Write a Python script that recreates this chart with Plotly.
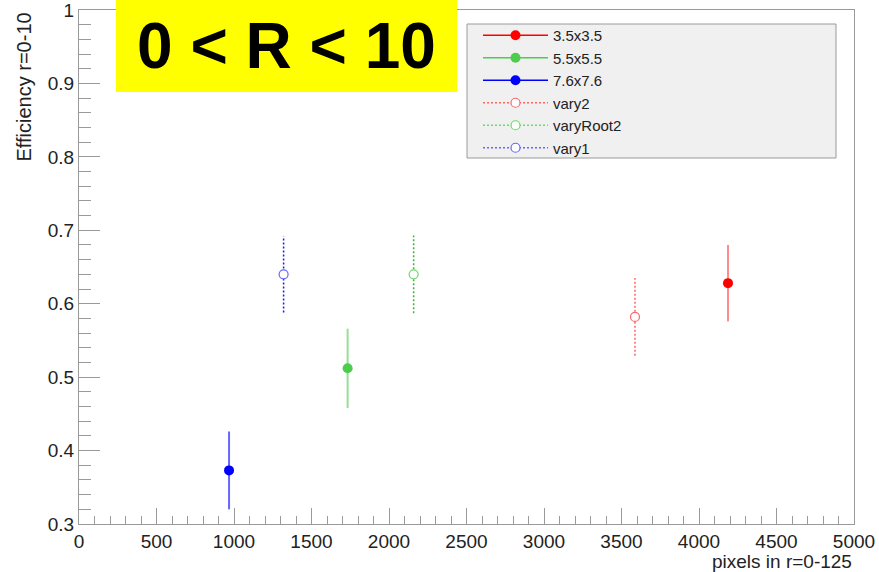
import plotly.graph_objects as go

# Efficiency vs. number of pixels for each pixel-size configuration
labels = ["3.5x3.5", "5.5x5.5", "7.6x7.6", "vary2", "varyRoot2", "vary1"]
pixels = [4187, 1733, 968, 3587, 2159, 1320]
efficiency = [0.628, 0.512, 0.373, 0.582, 0.640, 0.640]
err = [0.052, 0.054, 0.053, 0.053, 0.053, 0.052]
marker_colors = ["#ff0000", "#4dcc4d", "#0000ff", "#ff6666", "#66dd66", "#6666ff"]
bar_colors = ["rgba(255,0,0,0.45)", "rgba(60,200,60,0.55)", "rgba(0,0,255,0.6)",
              "rgba(255,60,60,0.8)", "rgba(30,180,30,0.9)", "rgba(0,0,230,0.9)"]
hollow = [False, False, False, True, True, True]

y_ticks = [0.3, 0.4, 0.5, 0.6, 0.7, 0.8, 0.9, 1.0]
y_tick_text = ["0.3", "0.4", "0.5", "0.6", "0.7", "0.8", "0.9", "1"]

FONT = "Liberation Sans, Arial, Helvetica, sans-serif"
AX_GRAY = "#9a9a9a"
DOTS = "2px,2px"

fig = go.Figure()

for lab, x, y, e, mc, bc, op in zip(labels, pixels, efficiency, err,
                                      marker_colors, bar_colors, hollow):
    if op:
        # dotted uncertainty segment for the open-marker series
        fig.add_trace(go.Scatter(
            x=[x, x], y=[y - e, y + e], mode="lines",
            line=dict(color=bc, width=1.5, dash=DOTS),
            showlegend=False, hoverinfo="skip"))
        fig.add_trace(go.Scatter(
            x=[x], y=[y], mode="lines+markers", name=lab,
            line=dict(color=mc, width=1.5, dash=DOTS),
            marker=dict(symbol="circle", size=9, color="white",
                        line=dict(color=mc, width=1.2))))
    else:
        fig.add_trace(go.Scatter(
            x=[x], y=[y], mode="lines+markers", name=lab,
            line=dict(color=mc, width=1.5),
            marker=dict(symbol="circle", size=10, color=mc),
            error_y=dict(type="data", array=[e], visible=True,
                         color=bc, thickness=2, width=0)))

axis_common = dict(
    showgrid=False, zeroline=False, showline=True, linecolor=AX_GRAY,
    linewidth=1, mirror=True, ticks="inside", tickcolor=AX_GRAY,
    automargin=False, ticklabeloverflow="allow",
    tickfont=dict(family=FONT, size=19, color="#222222"),
)

fig.update_xaxes(
    range=[0, 5000], dtick=500, tick0=0, ticklen=16, tickwidth=1,
    minor=dict(dtick=100, ticklen=8, tickcolor=AX_GRAY, ticks="inside"),
    **axis_common)
fig.update_yaxes(
    range=[0.3, 1.0], tickmode="array", tickvals=y_ticks, ticktext=y_tick_text,
    ticklen=21, tickwidth=1,
    minor=dict(dtick=0.02, tick0=0.3, ticklen=12, tickcolor=AX_GRAY, ticks="inside"),
    **axis_common)

W, H = 879, 572
ml, mr, mt, mb = 79, 25, 10, 48
pw, ph = W - ml - mr, H - mt - mb


def px(xpix):
    return (xpix - ml) / pw


def py(ypix):
    return (H - mb - ypix) / ph


# legend frame
fig.add_shape(type="rect", xref="paper", yref="paper",
              x0=px(467), x1=px(836), y0=py(158), y1=py(24),
              fillcolor="#f0f0f0", line=dict(color="#9a9a9a", width=1),
              layer="above")

fig.update_layout(
    width=W, height=H,
    margin=dict(l=ml, r=mr, t=mt, b=mb, autoexpand=False),
    paper_bgcolor="white", plot_bgcolor="white",
    font=dict(family=FONT, color="#222222"),
    showlegend=True,
    legend=dict(
        x=px(478), y=py(19), xanchor="left", yanchor="top",
        bgcolor="rgba(0,0,0,0)", borderwidth=0,
        font=dict(family=FONT, size=15, color="#222222"),
        itemwidth=65, tracegroupgap=0,
    ),
    annotations=[
        dict(text="pixels in r=0-125", xref="paper", yref="paper",
             x=1.0, y=py(561), xanchor="right", yanchor="middle",
             showarrow=False, font=dict(family=FONT, size=19, color="#222222")),
        dict(text="Efficiency r=0-10", xref="paper", yref="paper",
             x=px(23), y=py(10), xanchor="center", yanchor="top",
             textangle=-90, showarrow=False,
             font=dict(family=FONT, size=20, color="#222222")),
        dict(text="<b>0 &lt; R &lt; 10</b>", xref="paper", yref="paper",
             x=px(116), y=py(0), xanchor="left", yanchor="top",
             width=341, height=92, borderpad=0, borderwidth=0,
             bgcolor="#ffff00", align="center", valign="middle",
             showarrow=False, font=dict(family=FONT, size=64, color="black")),
    ],
)

fig.write_html("out.html")
